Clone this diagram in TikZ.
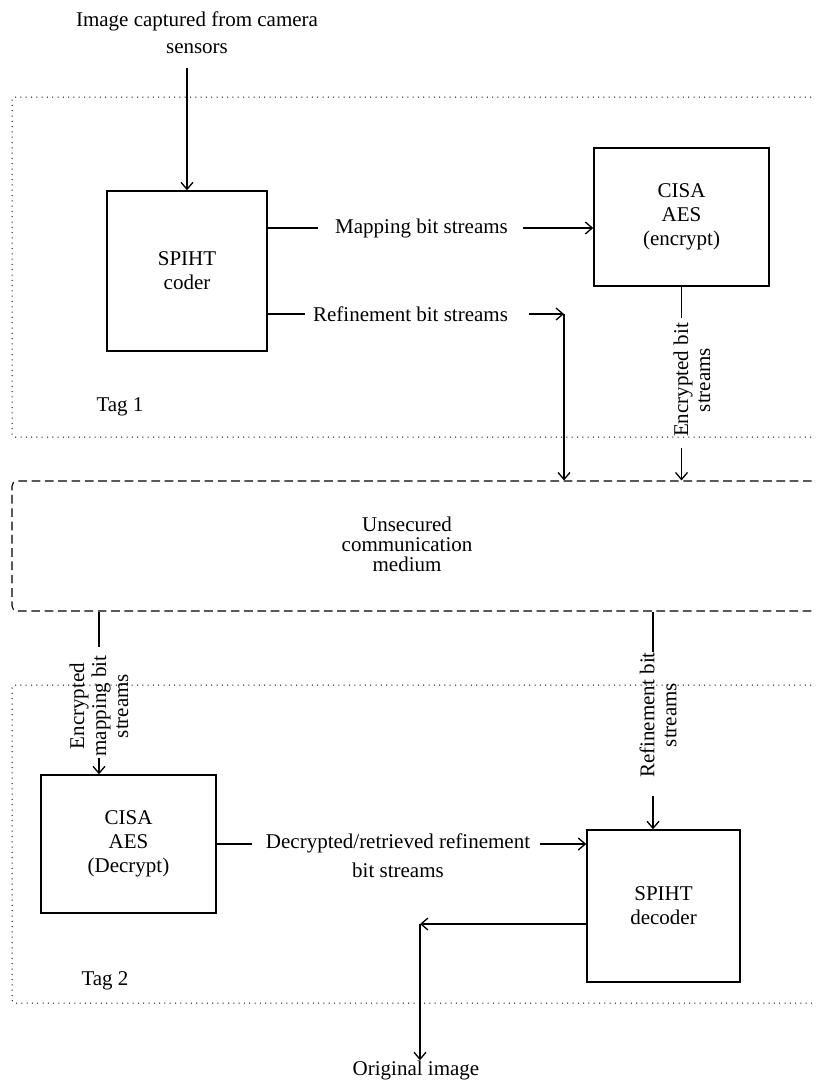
\documentclass[tikz,border=0pt]{standalone}
\usepackage{fontspec}
\setmainfont{Liberation Serif}
\usetikzlibrary{arrows.meta,calc}
\begin{document}
\begin{tikzpicture}[x=1pt,y=-1pt,
  every node/.style={font=\fontsize{21}{22}\selectfont, inner sep=0pt},
  block/.style={draw, line width=1.5pt, align=center, font=\fontsize{21}{24}\selectfont},
  tagframe/.style={draw, line width=1pt, dash pattern=on 1pt off 4.3pt, rounded corners=3pt},
  mediumframe/.style={draw, line width=1.1pt, dash pattern=on 8.7pt off 4.6pt, rounded corners=5pt},
  flow/.style={line width=1.3pt},
  arr/.style={flow, -{Straight Barb[length=7pt,width=12pt]}},
  vlabel/.style={rotate=90, align=center}
]
\useasboundingbox (0,0) rectangle (815,1090);
\clip (0,0) rectangle (815,1090);

% tag regions and the shared channel (open to the right)
\node[tagframe, minimum width=818pt, minimum height=340pt] (tag1) at (421,267) {};
\node[tagframe, minimum width=818pt, minimum height=318pt] (tag2) at (421,844) {};
\node[mediumframe, minimum width=818pt, minimum height=130pt] (medium) at (421,546) {};
\node[align=center, font=\fontsize{21}{20}\selectfont] (mediumtext) at (407,544) {Unsecured\\communication\\medium};

\node (tagA) at (120,407) {Tag 1};
\node (tagB) at (105,981) {Tag 2};

% processing blocks
\node[block, minimum width=160pt, minimum height=160pt] (coder) at (187,271) {SPIHT\\coder};
\node[block, minimum width=175pt, minimum height=138pt] (cisaE) at (681.5,217) {CISA\\AES\\(encrypt)};
\node[block, minimum width=175pt, minimum height=138pt] (cisaD) at (128.5,844) {CISA\\AES\\(Decrypt)};
\node[block, minimum width=153pt, minimum height=152pt] (decoder) at (663.5,906) {SPIHT\\decoder};

% texts
\node[align=center, font=\fontsize{21}{27}\selectfont] (title) at (197,33) {Image captured from camera\\sensors};
\node (map) at (421.5,228) {Mapping bit streams};
\node (refh) at (410.5,314) {Refinement bit streams};
\node[vlabel] (encl) at (692,380) {Encrypted bit\\streams};
\node[vlabel] (encm) at (99,706) {Encrypted\\mapping bit\\streams};
\node[vlabel] (refv) at (658,715) {Refinement bit\\streams};
\node[align=center, font=\fontsize{21}{29}\selectfont] (declab) at (398,856) {Decrypted/retrieved refinement\\bit streams};
\node (orig) at (416,1070) {Original image};

% helper points
\coordinate (src) at (187,68);
\coordinate (rcorner) at (564,314);
\coordinate (rx) at (653,0);
\coordinate (ocorner) at (420,924);

% connectors
\draw[arr] (src) -- (coder.north);
\draw[flow] (coder.east |- map) -- ($(map.west)+(-17,0)$);
\draw[arr] ($(map.east)+(15,0)$) -- (cisaE.west |- map);
\draw[flow] (coder.east |- refh) -- ($(refh.west)+(-8,0)$);
\draw[arr] ($(refh.east)+(21,0)$) -- (rcorner);
\draw[arr] (rcorner) -- (rcorner |- medium.north);
\draw[flow] (cisaE.south) -- ($(cisaE.south |- encl.east)+(0,-5)$);
\draw[arr] ($(cisaE.south |- encl.west)+(0,11)$) -- (cisaE.south |- medium.north);

\draw[flow] (encm.east |- medium.south) -- ($(encm.east)+(0,-8)$);
\draw[arr] ($(encm.west)+(0,1)$) -- (encm.west |- cisaD.north);
\draw[flow] (rx |- medium.south) -- (rx |- refv.east);
\draw[arr] ($(rx |- refv.west)+(0,18)$) -- (rx |- decoder.north);

\draw[flow] (cisaD.east) -- ($(declab.west |- cisaD.east)+(-14,0)$);
\draw[arr] ($(declab.east |- cisaD.east)+(10,0)$) -- (decoder.west |- cisaD.east);
\draw[arr] (decoder.west |- ocorner) -- (ocorner);
\draw[arr] (ocorner) -- (orig.north -| ocorner);
\end{tikzpicture}
\end{document}
